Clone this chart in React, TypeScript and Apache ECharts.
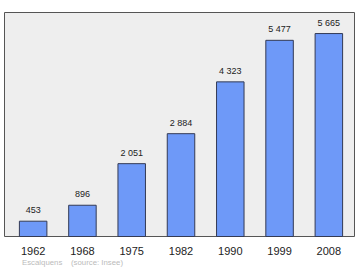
import React, { useEffect, useRef } from "react";
import * as echarts from "echarts";

const categories = ["1962", "1968", "1975", "1982", "1990", "1999", "2008"];
const population = [453, 896, 2051, 2884, 4323, 5477, 5665];
const footnote = "Escalquens    (source: Insee)";

const fmt = (v: number) => {
  const s = String(v);
  return s.length > 3 ? s.slice(0, s.length - 3) + " " + s.slice(-3) : s;
};

export default function App() {
  const ref = useRef<HTMLDivElement>(null);
  useEffect(() => {
    if (!ref.current) return;
    const chart = echarts.init(ref.current, null, { renderer: "svg" });
    chart.setOption({
      animation: false,
      backgroundColor: "#ffffff",
      textStyle: { fontFamily: "Liberation Sans, Arial, sans-serif" },
      graphic: [
        {
          type: "rect",
          z: -10,
          shape: { x: 4.5, y: 12.5, width: 350, height: 224 },
          style: { fill: "#eeeeee", stroke: "#555555", lineWidth: 1 },
          silent: true,
        },
        {
          type: "text",
          x: 22,
          y: 258,
          style: {
            text: footnote,
            fontSize: 7.8,
            fill: "#bbbbbb",
            fontFamily: "Liberation Sans, Arial, sans-serif",
          },
        },
      ],
      grid: { left: 8.5, top: 12, width: 345, height: 225, show: false },
      xAxis: {
        type: "category",
        data: categories,
        axisLine: { show: false },
        axisTick: { show: false },
        axisLabel: { color: "#222222", fontSize: 11, margin: 8 },
      },
      yAxis: {
        type: "value",
        min: 0,
        max: 6250,
        show: false,
        splitLine: { show: false },
      },
      series: [
        {
          type: "bar",
          data: population,
          barWidth: 28.5,
          itemStyle: { color: "#6e99f8", borderColor: "#333a55", borderWidth: 1 },
          label: {
            show: true,
            position: "top",
            distance: 6,
            fontSize: 9,
            color: "#222222",
            formatter: (p: any) => fmt(p.value),
          },
        },
      ],
    });
    return () => chart.dispose();
  }, []);
  return (
    <div
      ref={ref}
      style={{ position: "absolute", left: 0, top: 0, width: 360, height: 270 }}
    />
  );
}
